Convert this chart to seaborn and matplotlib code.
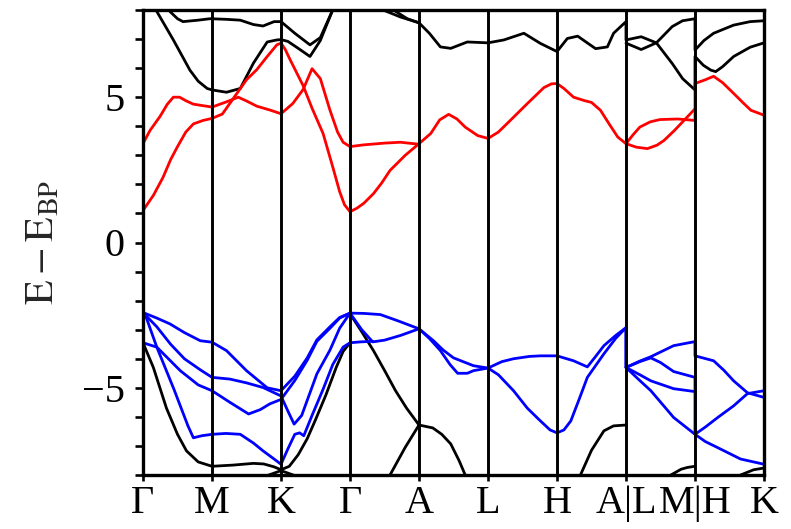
import matplotlib
matplotlib.use("Agg")
import matplotlib.pyplot as plt
from matplotlib.ticker import MultipleLocator
import pandas as pd
import seaborn as sns

# High-symmetry path: each segment has unit length
k_labels = ["Γ", "M", "K", "Γ", "A", "L", "H", "A|L", "M|H", "K"]
k_ticks = list(range(len(k_labels)))

# ---- conduction bands (k, E) ----
cond_1 = [(0, 1.10), (0.15, 1.62), (0.29, 2.24), (0.4, 2.85), (0.5, 3.3), (0.62, 3.8), (0.73, 4.08),
          (0.87, 4.2), (1.0, 4.27), (1.15, 4.42), (1.31, 4.96), (1.5, 5.6), (1.65, 5.95), (1.8, 6.4),
          (1.94, 6.8), (2.0, 6.86), (2.06, 6.65), (2.13, 6.3), (2.32, 5.4), (2.45, 4.62), (2.61, 3.75),
          (2.75, 2.6), (2.85, 1.75), (2.92, 1.3), (3.0, 1.06),
          (3.1, 1.18), (3.2, 1.35), (3.34, 1.68), (3.46, 2.05), (3.58, 2.48), (3.8, 3.0), (4.0, 3.4),
          (4.17, 3.75), (4.3, 4.22), (4.43, 4.41), (4.55, 4.25), (4.67, 3.97), (4.85, 3.68), (5.0, 3.58),
          (5.15, 3.8), (5.28, 4.1), (5.57, 4.78), (5.81, 5.33), (5.92, 5.46), (6.0, 5.47),
          (6.1, 5.3), (6.24, 5.0), (6.4, 4.88), (6.5, 4.82), (6.63, 4.55), (6.75, 4.1), (6.88, 3.63),
          (7.0, 3.4),
          (7.1, 3.7), (7.2, 3.97), (7.35, 4.15), (7.49, 4.23), (7.75, 4.25), (8.0, 4.2),
          (8.0, 5.47), (8.15, 5.6), (8.27, 5.72), (8.4, 5.5), (8.56, 5.13), (8.7, 4.8), (8.81, 4.55),
          (9.0, 4.38)]
cond_2a = [(0, 3.4), (0.1, 3.85), (0.25, 4.35), (0.35, 4.75), (0.44, 5.0), (0.53, 5.0), (0.62, 4.88),
           (0.73, 4.76), (1.0, 4.66), (1.21, 4.84), (1.38, 5.0), (1.5, 4.87), (1.65, 4.69),
           (1.85, 4.55), (2.0, 4.43), (2.17, 4.78), (2.32, 5.26), (2.45, 5.98), (2.57, 5.64),
           (2.71, 4.55), (2.82, 3.8), (2.9, 3.45), (3.0, 3.3),
           (3.2, 3.36), (3.5, 3.42), (3.73, 3.45), (4.0, 3.38)]
cond_2b = [(7.0, 3.4), (7.15, 3.28), (7.31, 3.23), (7.45, 3.35), (7.55, 3.51), (7.7, 3.85),
           (7.84, 4.2), (8.0, 4.6)]

# ---- valence bands (k, E) ----
val_1 = [(0, -2.41), (0.2, -2.6), (0.39, -2.8), (0.6, -3.1), (0.83, -3.38), (1.0, -3.43), (1.21, -3.72),
         (1.5, -4.41), (1.8, -5.0), (2.0, -5.1), (2.2, -4.6), (2.38, -3.97), (2.52, -3.35), (2.71, -2.9),
         (2.85, -2.58), (3.0, -2.43),
         (3.2, -2.44), (3.44, -2.48), (3.7, -2.7), (4.0, -2.97),
         (4.15, -3.3), (4.31, -3.72), (4.45, -4.2), (4.56, -4.5), (4.7, -4.5), (4.79, -4.41), (5.0, -4.32),
         (5.2, -4.1), (5.37, -4.0), (5.6, -3.92), (5.76, -3.9), (6.0, -3.9),
         (6.24, -4.07), (6.44, -4.28), (6.55, -3.95), (6.68, -3.55), (6.85, -3.2), (7.0, -2.93),
         (7.0, -4.3), (7.2, -4.08), (7.36, -3.93), (7.69, -3.55), (8.0, -3.41),
         (8.0, -3.9), (8.27, -4.07), (8.42, -4.4), (8.56, -4.76), (8.76, -5.17), (9.0, -5.33)]
val_2 = [(0, -2.41), (0.2, -2.9), (0.4, -3.5), (0.6, -4.0), (0.83, -4.38), (1.0, -4.64), (1.26, -4.7),
         (1.5, -4.83), (1.74, -4.99), (2.0, -5.28), (2.1, -5.8), (2.19, -6.25), (2.3, -5.95),
         (2.52, -4.52), (2.71, -3.7), (2.85, -2.95), (3.0, -2.43),
         (3.17, -3.0), (3.33, -3.42), (3.5, -3.36), (3.73, -3.2), (4.0, -2.97),
         (4.21, -3.38), (4.35, -3.7), (4.5, -3.97), (4.79, -4.24), (5.0, -4.32),
         (5.15, -4.55), (5.37, -5.1), (5.57, -5.7), (5.76, -6.14), (5.9, -6.45), (6.0, -6.55),
         (6.1, -6.45), (6.2, -6.14), (6.32, -5.4), (6.44, -4.64), (6.68, -3.83), (6.85, -3.3), (7.0, -2.93),
         (7.0, -4.3), (7.2, -4.75), (7.36, -5.1), (7.69, -6.02), (8.0, -6.6),
         (8.15, -6.85), (8.33, -7.06), (8.66, -7.45), (9.0, -7.63)]
val_3a = [(0, -3.45), (0.2, -3.6), (0.54, -4.41), (0.8, -4.9), (1.0, -5.1), (1.26, -5.5), (1.53, -5.9),
          (1.7, -5.75), (1.84, -5.55), (2.0, -5.4), (2.2, -4.75), (2.38, -4.05), (2.52, -3.4),
          (2.71, -2.95), (2.85, -2.6), (3.0, -2.43)]
val_3b = [(7.0, -4.3), (7.2, -4.1), (7.36, -3.97), (7.5, -4.13), (7.69, -4.44), (8.0, -4.64),
          (8.0, -6.6), (8.15, -6.35), (8.33, -6.02), (8.56, -5.62), (8.76, -5.2), (9.0, -5.1)]
val_4a = [(0, -2.41), (0.05, -2.6), (0.2, -3.6), (0.45, -5.06), (0.65, -6.3), (0.73, -6.72), (0.85, -6.65),
          (1.0, -6.6), (1.2, -6.57), (1.41, -6.6), (1.6, -6.9), (1.74, -7.17), (1.9, -7.45), (2.0, -7.63),
          (2.1, -7.1), (2.2, -6.6), (2.27, -6.55), (2.33, -6.65), (2.45, -5.95), (2.61, -5.05),
          (2.75, -4.2), (2.9, -3.6), (3.0, -3.45), (3.15, -3.42), (3.33, -3.4)]
val_4b = [(7.0, -4.3), (7.2, -4.55), (7.36, -4.76), (7.69, -5.03), (8.0, -5.13)]

# ---- remaining bands (k, E) ----
core_1 = [(0.15, 8.4), (0.2, 7.95), (0.44, 6.97), (0.68, 5.93), (0.8, 5.55), (0.93, 5.3), (1.0, 5.25),
          (1.21, 5.17), (1.41, 5.3), (1.6, 6.17), (1.8, 6.9), (1.94, 6.97), (2.0, 6.98), (2.1, 6.92),
          (2.25, 6.68), (2.42, 6.4), (2.57, 6.95), (2.74, 7.95), (2.8, 8.4)]
core_2 = [(0.3, 8.4), (0.39, 7.95), (0.5, 7.7), (0.58, 7.6), (0.8, 7.65), (0.97, 7.7), (1.2, 7.68),
          (1.41, 7.65), (1.6, 7.5), (1.74, 7.45), (1.9, 7.6), (2.0, 7.6), (2.2, 7.2), (2.42, 6.8),
          (2.57, 7.05), (2.74, 7.95), (2.8, 8.4)]
core_3 = [(3.4, 8.4), (3.48, 8.0), (3.73, 7.76), (4.0, 7.56), (4.15, 7.2), (4.31, 6.73), (4.46, 6.68),
          (4.7, 6.9), (5.0, 6.87), (5.23, 6.97), (5.52, 7.2), (5.76, 6.85), (6.0, 6.57), (6.15, 7.02),
          (6.3, 7.1), (6.45, 6.85), (6.56, 6.67), (6.73, 6.73), (6.82, 7.2), (7.0, 7.6),
          (7.0, 6.97), (7.22, 7.08), (7.44, 6.87), (7.67, 7.43), (7.82, 7.63), (8.0, 7.7),
          (8.0, 6.62), (8.13, 6.95), (8.27, 7.2), (8.56, 7.48), (8.8, 7.6), (9.0, 7.63)]
core_4 = [(3.55, 8.4), (3.63, 8.0), (3.83, 7.7), (4.0, 7.56)]
core_5 = [(7.0, 6.86), (7.22, 6.64), (7.44, 6.87), (7.67, 6.16), (7.82, 5.64), (8.0, 5.25),
          (8.0, 6.4), (8.12, 6.1), (8.23, 5.93), (8.3, 5.88), (8.4, 6.05), (8.56, 6.4), (8.8, 6.72),
          (9.0, 6.87)]
core_6 = [(0, -3.45), (0.15, -4.3), (0.34, -5.7), (0.5, -6.6), (0.63, -7.17), (0.8, -7.55), (1.0, -7.7),
          (1.3, -7.66), (1.6, -7.6), (1.75, -7.62), (1.9, -7.72), (2.0, -7.82), (2.12, -7.7),
          (2.25, -7.3), (2.38, -6.75), (2.5, -6.1), (2.65, -5.25), (2.8, -4.3), (2.9, -3.75), (3.0, -3.45)]
core_7 = [(1.6, -8.3), (1.8, -8.02), (2.0, -7.85), (2.2, -8.02), (2.4, -8.3)]
core_8 = [(3.0, -2.45), (3.17, -3.07), (3.34, -3.72), (3.5, -4.4), (3.66, -5.1), (3.82, -5.7), (4.0, -6.28)]
core_9 = [(3.5, -8.4), (3.58, -8.0), (3.8, -7.05), (4.0, -6.28), (4.2, -6.38), (4.33, -6.6),
          (4.46, -6.93), (4.58, -7.5), (4.67, -8.0), (4.72, -8.4)]
core_10 = [(6.28, -8.4), (6.34, -8.0), (6.5, -7.15), (6.68, -6.48), (6.82, -6.31), (7.0, -6.28)]
core_11 = [(7.6, -8.3), (7.65, -8.0), (7.8, -7.8), (7.89, -7.74), (8.0, -7.7)]
core_12 = [(8.6, -8.3), (8.66, -8.0), (8.85, -7.82), (9.0, -7.76)]

pieces = [
    ("core", [core_1, core_2, core_3, core_4, core_5, core_6, core_7, core_8,
              core_9, core_10, core_11, core_12]),
    ("conduction", [cond_1, cond_2a, cond_2b]),
    ("valence", [val_1, val_2, val_3a, val_3b, val_4a, val_4b]),
]

rows = []
for kind, bands in pieces:
    for i, band in enumerate(bands):
        for k, e in band:
            rows.append({"kind": kind, "piece": f"{kind}_{i}", "k": k, "E": e})
df = pd.DataFrame(rows)

sns.set_style("white")
plt.rcParams["font.family"] = ["Liberation Serif", "DejaVu Serif"]
plt.rcParams["mathtext.fontset"] = "stix"

fig, ax = plt.subplots(figsize=(7.91, 5.29), dpi=100)
fig.subplots_adjust(left=143 / 791, right=764 / 791, top=1 - 10 / 529, bottom=1 - 475 / 529)

sns.lineplot(data=df, x="k", y="E", hue="kind", hue_order=["core", "conduction", "valence"],
             palette={"core": "black", "conduction": "#ff0000", "valence": "#0000ff"},
             units="piece", estimator=None, sort=False, legend=False, linewidth=2.0, ax=ax)

ax.set_xlim(0, 9)
ax.set_ylim(-8, 8)
for k in k_ticks[1:-1]:
    ax.axvline(k, color="black", lw=2.1, zorder=3)

ax.set_xticks(k_ticks)
ax.set_xticklabels(k_labels)
ax.set_yticks([-5, 0, 5])
ax.set_yticklabels(["\u22125", "0", "5"])
ax.yaxis.set_minor_locator(MultipleLocator(1))
ax.tick_params(axis="y", which="both", direction="out", length=6, width=1.9,
               left=True, right=False, labelsize=29, pad=7, colors="black")
ax.tick_params(axis="x", which="major", direction="out", length=4, width=1.9,
               bottom=True, top=False, labelsize=29, pad=3, colors="black")
ax.set_xlabel("")
ax.set_ylabel(r"$\mathrm{E} - \mathrm{E}_{\mathrm{BP}}$", fontsize=29, labelpad=14)
for sp in ax.spines.values():
    sp.set_linewidth(2.4)
    sp.set_color("black")

fig.savefig("out.png", dpi=100)
